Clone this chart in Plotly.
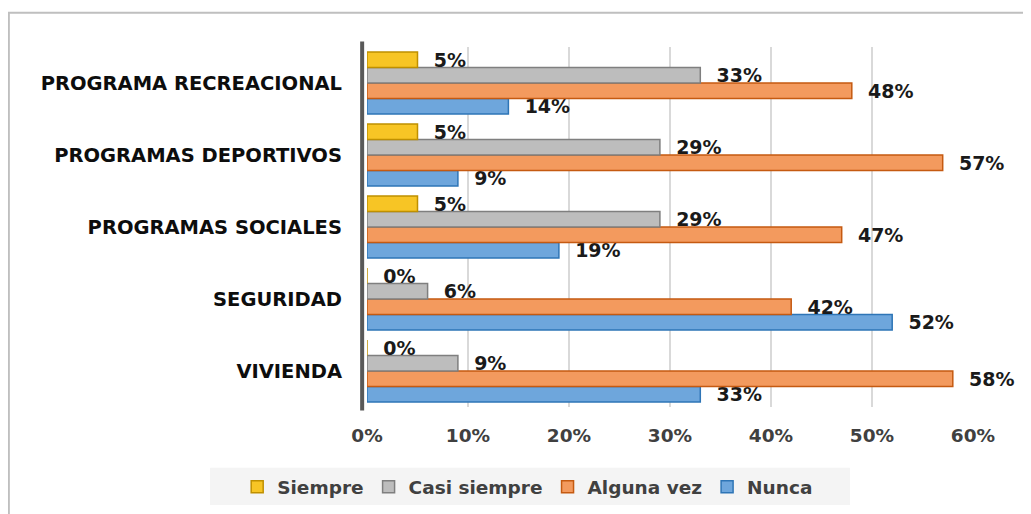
import plotly.graph_objects as go

categories = ["VIVIENDA", "SEGURIDAD", "PROGRAMAS SOCIALES", "PROGRAMAS DEPORTIVOS", "PROGRAMA RECREACIONAL"]
siempre = [0.00, 0.00, 0.05, 0.05, 0.05]
casi_siempre = [0.09, 0.06, 0.29, 0.29, 0.33]
alguna_vez = [0.58, 0.42, 0.47, 0.57, 0.48]
nunca = [0.33, 0.52, 0.19, 0.09, 0.14]
x_ticks = [0, 0.1, 0.2, 0.3, 0.4, 0.5, 0.6]

series = [
    ("Nunca", nunca, "#6EA6DC", "#2E75B6"),
    ("Alguna vez", alguna_vez, "#F39A5E", "#C55A11"),
    ("Casi siempre", casi_siempre, "#BDBDBD", "#7F7F7F"),
    ("Siempre", siempre, "#F7C525", "#BF9000"),
]

FONT = "DejaVu Sans"

fig = go.Figure()
for name, vals, fill, line in series:
    fig.add_trace(go.Bar(
        y=categories, x=vals, name=name, orientation="h",
        marker=dict(color=fill, line=dict(color=line, width=1.5)),
        text=vals, texttemplate="\u00a0\u00a0%{x:.0%}", textposition="outside",
        constraintext="none",
        textfont=dict(family=FONT, size=19, color="#1a1a1a", weight="bold"),
        cliponaxis=False,
    ))

fig.update_layout(
    width=1023, height=506,
    margin=dict(l=359, r=58, t=39, b=107),
    paper_bgcolor="white", plot_bgcolor="white",
    barmode="group", bargap=0.14, bargroupgap=0.0,
    font=dict(family=FONT, color="#404040"),
    xaxis=dict(range=[0, 0.6], tickvals=x_ticks, tickformat=".0%",
               showgrid=True, gridcolor="#D9D9D9", gridwidth=1.5, zeroline=False,
               ticks="", ticklabelstandoff=15,
               tickfont=dict(family=FONT, size=18.5, color="#404040", weight="bold")),
    yaxis=dict(showgrid=False, zeroline=False, ticks="", ticklabelstandoff=24,
               tickfont=dict(family=FONT, size=19.5, color="#0d0d0d", weight="bold")),
    legend=dict(orientation="h", xref="container", yref="container",
                x=0.508, y=0.053, xanchor="center", yanchor="middle",
                traceorder="reversed", bgcolor="rgba(0,0,0,0)",
                font=dict(family=FONT, size=18.5, color="#404040", weight="bold")),
    showlegend=True,
    shapes=[
        dict(type="rect", xref="paper", yref="paper", x0=-0.259, x1=0.797, y0=-0.272, y1=-0.169,
             fillcolor="#F4F4F4", line=dict(width=0), layer="below"),
        dict(type="line", xref="paper", yref="paper", x0=-0.008, x1=-0.008, y0=-0.01, y1=1.015,
             line=dict(color="#595959", width=4)),
        dict(type="rect", xref="paper", yref="paper", x0=-0.591, x1=1.12, y0=-0.4, y1=1.095,
             line=dict(color="#BFBFBF", width=2), fillcolor="rgba(0,0,0,0)"),
    ],
)

fig.write_html("out.html")
